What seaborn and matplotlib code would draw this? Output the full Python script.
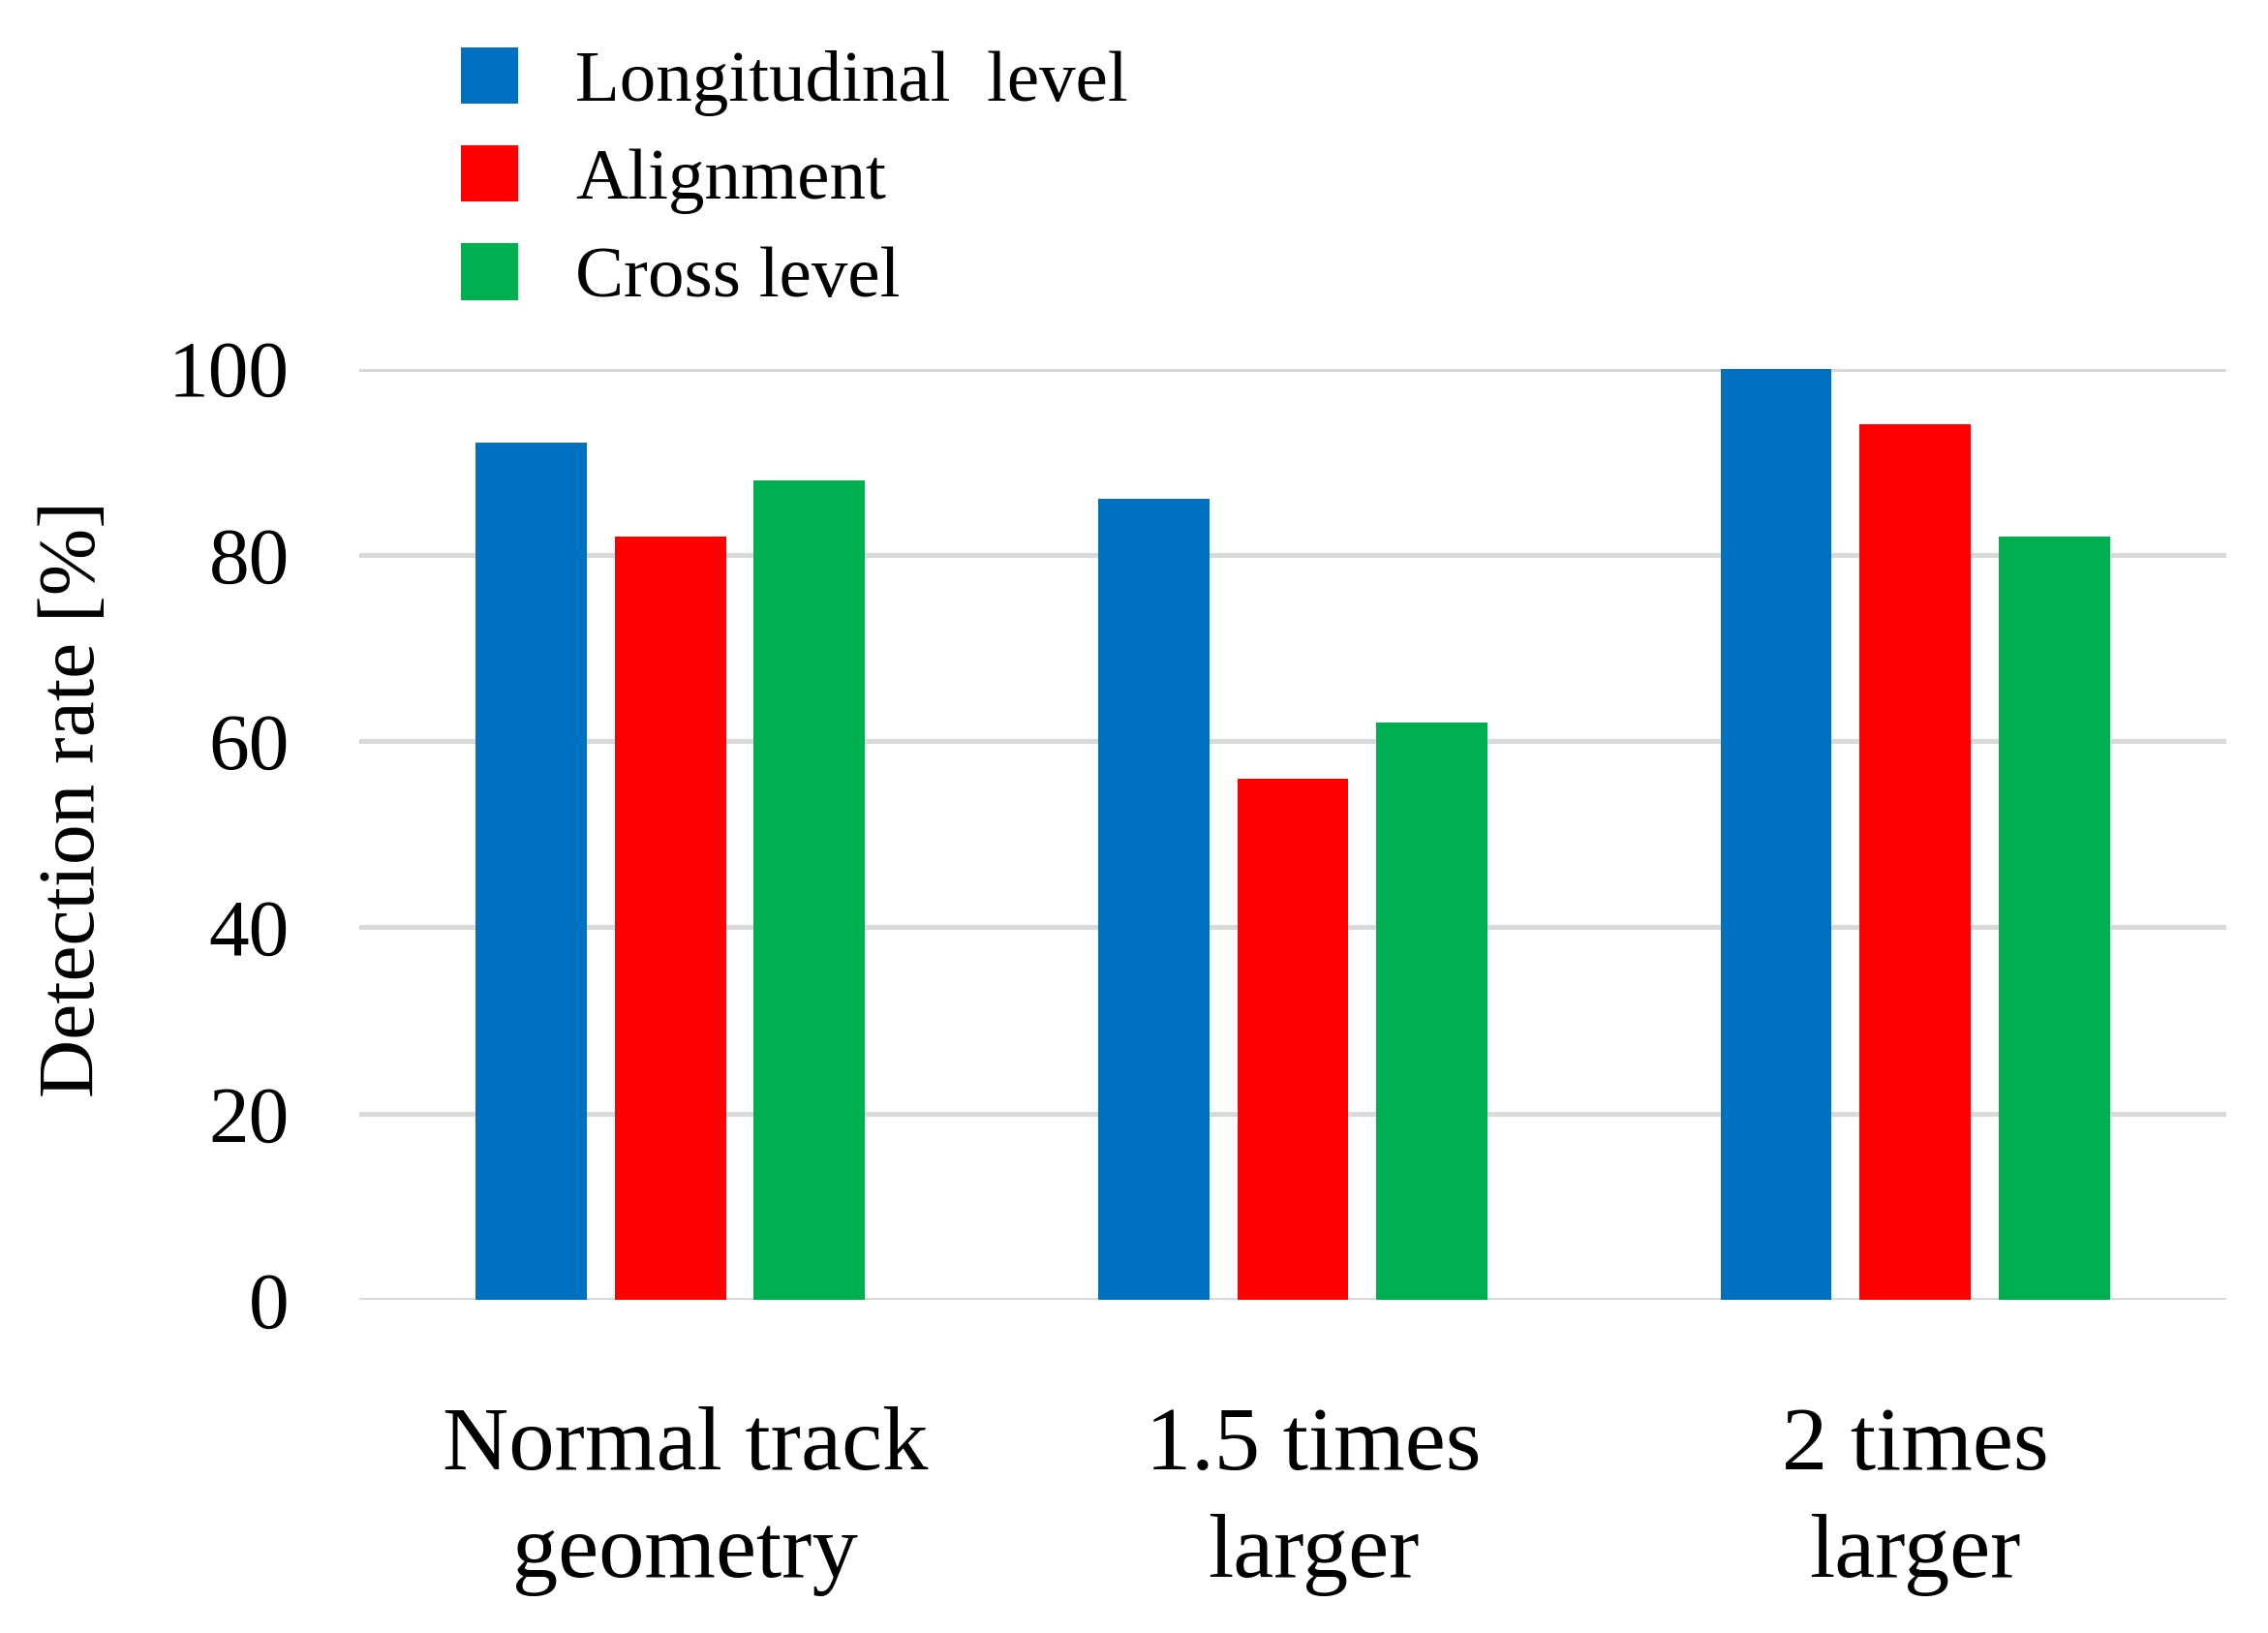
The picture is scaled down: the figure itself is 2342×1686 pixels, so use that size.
import matplotlib
matplotlib.use("Agg")
import matplotlib.pyplot as plt
import matplotlib.transforms as mtransforms
import seaborn as sns
import pandas as pd
from matplotlib.patches import Patch

categories = ["Normal track\ngeometry", "1.5 times\nlarger", "2 times\nlarger"]
series = ["Longitudinal  level", "Alignment", "Cross level"]
longitudinal = [92, 86, 100]
alignment = [82, 56, 94]
cross = [88, 62, 82]
colors = ["#0070C0", "#FF0000", "#00B050"]
yticks = [0, 20, 40, 60, 80, 100]

rows = []
for name, vals in zip(series, [longitudinal, alignment, cross]):
    for c, v in zip(categories, vals):
        rows.append({"cat": c, "series": name, "value": v})
df = pd.DataFrame(rows)

sns.set_theme(style="white")
plt.rcParams["font.family"] = ["Liberation Serif", "DejaVu Serif"]
for k in ["text.color", "axes.labelcolor", "xtick.color", "ytick.color"]:
    plt.rcParams[k] = "black"

fig = plt.figure(figsize=(23.42, 16.86), dpi=100)
ax = fig.add_axes([0.1584, 0.2040, 0.8232, 0.5703])

sns.barplot(data=df, x="cat", y="value", hue="series", hue_order=series,
            palette=colors, width=0.67, gap=0.2, ax=ax, legend=False,
            saturation=1, linewidth=0)

ax.set_ylim(0, 100)
ax.set_xlim(-0.5, 2.5)
ax.set_yticks(yticks)
ax.set_yticklabels([str(t) for t in yticks])
ax.yaxis.grid(True, color="#D9D9D9", linewidth=3.6)
ax.set_axisbelow(True)
for s in ax.spines.values():
    s.set_visible(False)
ax.tick_params(axis="y", length=0, pad=52, labelsize=60)
ax.tick_params(axis="x", length=0, pad=79, labelsize=68)
shifts = [15, 21, 0]
for lab, dx in zip(ax.get_xticklabels(), shifts):
    lab.set_linespacing(1.4)
    lab.set_transform(lab.get_transform() +
                      mtransforms.ScaledTranslation(dx / 100, 0, fig.dpi_scale_trans))
ax.set_xlabel("")
ax.set_ylabel("Detection rate [%]", fontsize=60)
ax.yaxis.set_label_coords(-0.133, 0.538)

handles = [Patch(facecolor=c, edgecolor="none") for c in colors]
fig.legend(handles, series, loc="upper left", bbox_to_anchor=(0.2032, 0.971),
           frameon=False, fontsize=54, handlelength=0.79, handleheight=0.82,
           labelspacing=0.40, handletextpad=0.79, borderpad=0, borderaxespad=0)

fig.savefig("out.png", dpi=100)
